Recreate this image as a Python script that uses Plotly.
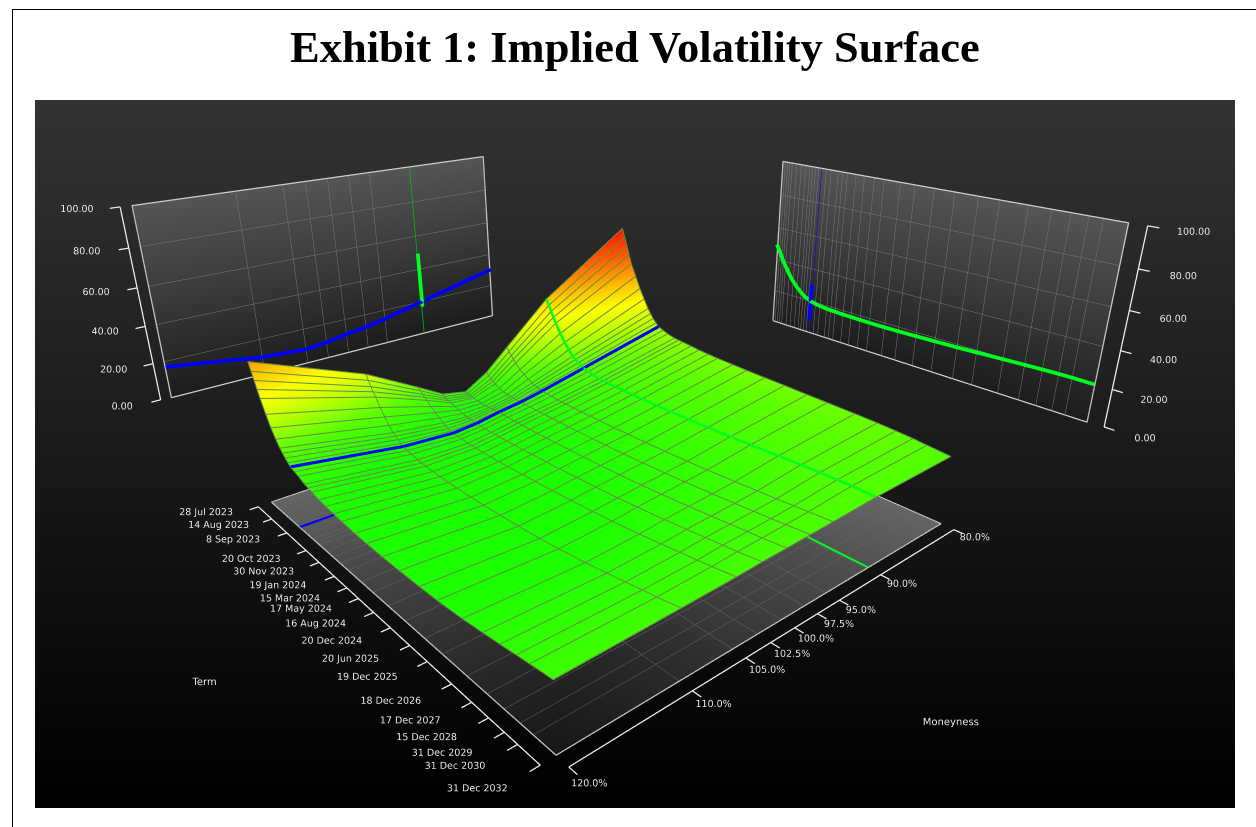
import numpy as np
import plotly.graph_objects as go

TITLE = "Exhibit 1: Implied Volatility Surface"
moneyness = [120, 110, 105, 102.5, 100, 97.5, 95, 90, 80]
moneyness_labels = ["120.0%", "110.0%", "105.0%", "102.5%", "100.0%", "97.5%", "95.0%", "90.0%", "80.0%"]
term_axis = [0, .009, .018, .026, .035, .052, .0685, .085, .10, .11, .12, .131, .142, .158, .175, .20, .215, .231, .26,
             .288, .32, .352, .403, .448, .505, .565, .631, .688, .763, .821, .868, .91, .944, 1]
term_labels = ["28 Jul 2023", "", "", "", "", "", "14 Aug 2023", "", "", "", "", "", "8 Sep 2023", "", "", "", "",
               "20 Oct 2023", "", "30 Nov 2023", "", "19 Jan 2024", "15 Mar 2024", "17 May 2024", "16 Aug 2024",
               "20 Dec 2024", "20 Jun 2025", "19 Dec 2025", "18 Dec 2026", "17 Dec 2027", "15 Dec 2028",
               "31 Dec 2029", "31 Dec 2030", "31 Dec 2032"]
vol_surface = [
    [55.3, 36, 22.4, 15.3, 12.9, 19.7, 29.8, 49.7, 77.7],
    [51.5, 33.5, 21.2, 14.6, 12.5, 18.6, 28.1, 46.8, 73.3],
    [48, 31, 20, 14, 12.2, 17.5, 26.5, 44, 69],
    [44.5, 29, 19, 13.5, 12, 16.6, 25, 41.2, 64.5],
    [41, 27, 18, 13, 11.8, 15.8, 23.5, 38.5, 60],
    [35, 23, 16, 12.2, 11.5, 14.5, 21, 34, 54],
    [30, 19.5, 14, 11.5, 11.3, 13.8, 19.5, 30, 48],
    [26, 16.5, 12.5, 10.8, 11.2, 13.4, 18, 27, 43],
    [23, 14, 11, 10.2, 11.2, 13.2, 17, 24.5, 38.5],
    [21.5, 13, 10.2, 10, 11.2, 13.1, 16.5, 23.2, 36.2],
    [20, 12, 9.5, 9.8, 11.3, 13.1, 16, 22, 34],
    [18.7, 11, 9, 9.6, 11.4, 13, 15.6, 21.1, 32.2],
    [17.4, 10, 8.5, 9.5, 11.5, 13, 15.2, 20.3, 30.5],
    [16.8, 9.5, 8.3, 9.4, 11.4, 12.9, 15, 19.6, 29.5],
    [16, 9, 8.2, 9.4, 11.4, 12.9, 14.8, 19, 28.5],
    [14.5, 8.2, 8, 9.4, 11.3, 12.9, 14.6, 18.5, 27.5],
    [14, 7.9, 7.9, 9.4, 11.3, 12.9, 14.5, 18.3, 27.2],
    [13.5, 7.6, 7.9, 9.4, 11.3, 12.9, 14.5, 18.2, 27],
    [12.5, 7.3, 7.9, 9.5, 11.3, 12.9, 14.4, 18, 26.5],
    [12, 7.1, 8, 9.6, 11.3, 12.9, 14.4, 17.9, 26],
    [11.5, 7, 8.1, 9.7, 11.4, 12.9, 14.4, 17.8, 25.6],
    [11, 7, 8.3, 9.9, 11.5, 13, 14.4, 17.7, 25.3],
    [10.5, 7.1, 8.6, 10.2, 11.7, 13.1, 14.5, 17.7, 25],
    [10.3, 7.3, 9, 10.5, 11.9, 13.3, 14.6, 17.8, 24.7],
    [10.2, 7.7, 9.5, 11, 12.2, 13.5, 14.8, 18, 24.5],
    [10.3, 8.3, 10.1, 11.5, 12.7, 13.9, 15.1, 18.3, 24.3],
    [10.6, 9, 10.9, 12.2, 13.3, 14.4, 15.5, 18.6, 24],
    [11, 10, 11.7, 13, 14, 15, 16, 19, 23.8],
    [12, 11.5, 13, 14.2, 15.1, 15.9, 16.8, 19.6, 23.5],
    [13.2, 13, 14.3, 15.3, 16, 16.7, 17.5, 20, 23.2],
    [14.2, 14.2, 15.3, 16.2, 16.8, 17.4, 18, 20.3, 22.8],
    [15.2, 15.4, 16.2, 17, 17.5, 18, 18.6, 20.5, 22.3],
    [16, 16.2, 17, 17.6, 18, 18.5, 19, 20.6, 21.7],
    [17.2, 18, 18.5, 19, 19.2, 19.5, 19.8, 20.5, 20.8],
]
vol_ticks = [0, 20, 40, 60, 80, 100]
BLUE_TERM = term_labels.index("8 Sep 2023")
GREEN_COL = moneyness.index(90)

W, H = 1256, 827
FLOOR_Z = -11
M_WALL = 55.1      # moneyness coordinate of the right-hand wall plane
T_WALL = -0.593    # term coordinate of the back wall plane
R_DROP = -2.2      # the right-hand wall sits slightly lower than the back wall
GRID = "rgb(100,140,70)"
WALLGRID = "rgb(120,120,120)"
FLOORGRID = "rgb(100,100,100)"
EDGE = "rgb(205,205,205)"
WHITE = "rgb(240,240,240)"
BLUE = "rgb(0,0,255)"
GREEN = "rgb(0,255,30)"

vol = np.array(vol_surface)
mon = np.array(moneyness)
term = np.array(term_axis)
wm = lambda m: 120 - (120 - m) * .975   # back wall is drawn slightly narrower than the floor
rz = lambda v: v + R_DROP

fig = go.Figure()


def lines(segments, color, width):
    xs, ys, zs = [], [], []
    for seg in segments:
        for p in seg:
            xs.append(p[0]); ys.append(p[1]); zs.append(p[2])
        xs.append(None); ys.append(None); zs.append(None)
    fig.add_trace(go.Scatter3d(x=xs, y=ys, z=zs, mode="lines", line=dict(color=color, width=width),
                               hoverinfo="skip", showlegend=False))


def labels(xs, ys, zs, texts, size=9.5, color="rgb(235,235,235)"):
    fig.add_trace(go.Scatter3d(x=xs, y=ys, z=zs, mode="text", text=texts, textposition="middle center",
                               textfont=dict(family="DejaVu Sans", size=size, color=color),
                               hoverinfo="skip", showlegend=False))


def quad(corners, colors):
    c = np.array(corners)
    fig.add_trace(go.Mesh3d(x=c[:, 0], y=c[:, 1], z=c[:, 2], i=[0, 0], j=[1, 2], k=[2, 3], vertexcolor=colors,
                            lighting=dict(ambient=1, diffuse=0, specular=0, roughness=1, fresnel=0),
                            flatshading=False, hoverinfo="skip", showlegend=False))


# surface ------------------------------------------------------------------
vscale = [[0, "rgb(20,255,0)"], [.11, "rgb(28,255,0)"], [.17, "rgb(60,255,0)"], [.21, "rgb(85,255,0)"],
          [.30, "rgb(170,255,0)"], [.36, "rgb(220,255,0)"], [.42, "rgb(255,255,0)"], [.50, "rgb(255,200,0)"],
          [.55, "rgb(255,160,0)"], [.65, "rgb(255,90,0)"], [.78, "rgb(255,20,0)"], [1, "rgb(255,0,0)"]]
fig.add_trace(go.Surface(x=mon[::-1], y=term, z=vol[:, ::-1], colorscale=vscale, cmin=0, cmax=100, showscale=False,
                         lighting=dict(ambient=1, diffuse=0, specular=0, roughness=1, fresnel=0),
                         hoverinfo="skip"))
LIFT = 0.25
lines([[(m, t, v + LIFT) for m, v in zip(mon, row)] for t, row in zip(term, vol)], GRID, 2)
lines([[(mon[j], t, vol[i, j] + LIFT) for i, t in enumerate(term)] for j in range(len(mon)) if j != GREEN_COL], GRID, 2)
lines([[(m, term[BLUE_TERM], v + 2 * LIFT) for m, v in zip(mon, vol[BLUE_TERM])]], BLUE, 6.5)
lines([[(mon[GREEN_COL], t, vol[i, GREEN_COL] + 2 * LIFT) for i, t in enumerate(term)]], GREEN, 5)

# floor --------------------------------------------------------------------
quad([(120, 1, FLOOR_Z), (80, 1, FLOOR_Z), (80, 0, FLOOR_Z), (120, 0, FLOOR_Z)],
     ["rgb(22,22,22)", "rgb(100,100,100)", "rgb(120,120,120)", "rgb(100,100,100)"])
FZ = FLOOR_Z + .15
lines([[(120, t, FZ), (80, t, FZ)] for t in term], FLOORGRID, 1)
lines([[(m, 0, FZ), (m, 1, FZ)] for m in mon], FLOORGRID, 1)
lines([[(120, 0, FZ), (80, 0, FZ), (80, 1, FZ), (120, 1, FZ), (120, 0, FZ)]], EDGE, 2.5)
lines([[(120, term[BLUE_TERM], FZ), (80, term[BLUE_TERM], FZ)]], BLUE, 7)
lines([[(90, 0, FZ), (90, 1, FZ)]], GREEN, 7)

# term axis
TA = 121.15
lab_t = [t for t, l in zip(term, term_labels) if l]
lines([[(TA, 0, FLOOR_Z), (TA, 1, FLOOR_Z)]], WHITE, 2.5)
lines([[(TA, t, FLOOR_Z), (121.9, t, FLOOR_Z)] for t in lab_t], WHITE, 2.5)
labels([125.4] * len(lab_t), lab_t, [FLOOR_Z + 5.5] * len(lab_t), [l for l in term_labels if l])
# moneyness axis
MA = 1.03
lines([[(120, MA, FLOOR_Z), (80, MA, FLOOR_Z)]], WHITE, 2.5)
lines([[(m, MA, FLOOR_Z), (m, 1.05, FLOOR_Z)] for m in mon], WHITE, 2.5)
labels(moneyness, [1.077] * 9, [FLOOR_Z + 1] * 9, moneyness_labels)
labels([133], [.494], [FLOOR_Z], ["Term"], 10)
labels([100.2], [1.342], [FLOOR_Z], ["Moneyness"], 10)

# back wall (vol against moneyness) ----------------------------------------
top, bot = "rgb(85,85,85)", "rgb(28,28,28)"
quad([(wm(120), T_WALL, 0), (wm(80), T_WALL, 0), (wm(80), T_WALL, 100), (wm(120), T_WALL, 100)], [bot, bot, top, top])
TW = T_WALL + .004
lines([[(wm(120), TW, v), (wm(80), TW, v)] for v in vol_ticks[1:-1]], WALLGRID, 1)
lines([[(wm(m), TW, 0), (wm(m), TW, 100)] for m in mon if m != 90], WALLGRID, 1)
lines([[(wm(120), TW, 0), (wm(80), TW, 0), (wm(80), TW, 100), (wm(120), TW, 100), (wm(120), TW, 0)]], EDGE, 2.5)
lines([[(wm(90), TW, 0), (wm(90), TW, 100)]], "rgb(0,190,0)", 1.5)
TW2 = T_WALL + .008
lines([[(wm(90), TW2, v) for v in vol[:, GREEN_COL]]], GREEN, 7.5)
lines([[(wm(m), TW2, v) for m, v in zip(mon, vol[BLUE_TERM])]], BLUE, 7.5)
lines([[(121, T_WALL, 0), (121, T_WALL, 100)]], WHITE, 2.5)
lines([[(121, T_WALL, v), (121.9, T_WALL, v)] for v in vol_ticks], WHITE, 2.5)
labels([124.6] * 6, [T_WALL] * 6, [v + 2 for v in vol_ticks], [f"{v:.2f}" for v in vol_ticks])

# right wall (vol against term) ----------------------------------------------
quad([(M_WALL, 1, rz(0)), (M_WALL, 0, rz(0)), (M_WALL, 0, rz(100)), (M_WALL, 1, rz(100))], [bot, bot, top, top])
MW = M_WALL + .15
lines([[(MW, 0, rz(v)), (MW, 1, rz(v))] for v in vol_ticks[1:-1]], WALLGRID, 1)
lines([[(MW, t, rz(0)), (MW, t, rz(100))] for i, t in enumerate(term) if i != BLUE_TERM], WALLGRID, 1)
lines([[(MW, 0, rz(0)), (MW, 1, rz(0)), (MW, 1, rz(100)), (MW, 0, rz(100)), (MW, 0, rz(0))]], EDGE, 2.5)
lines([[(MW, term[BLUE_TERM], rz(0)), (MW, term[BLUE_TERM], rz(100))]], "rgb(20,20,210)", 1.5)
MW2 = M_WALL + .3
lines([[(MW2, term[BLUE_TERM], rz(v)) for v in vol[BLUE_TERM]]], BLUE, 7.5)
lines([[(MW2, t, rz(v)) for t, v in zip(term, vol[:, GREEN_COL])]], GREEN, 7.5)
lines([[(M_WALL, 1.04, rz(0)), (M_WALL, 1.04, rz(100))]], WHITE, 2.5)
lines([[(M_WALL, 1.04, rz(v)), (M_WALL, 1.065, rz(v))] for v in vol_ticks], WHITE, 2.5)
labels([M_WALL] * 6, [1.135] * 6, [v - 1 for v in vol_ticks], [f"{v:.2f}" for v in vol_ticks])

# page ---------------------------------------------------------------------
shapes = []
PANEL = (35, 100, 1235, 808)
for lvl in range(52):
    y0 = PANEL[1] + (PANEL[3] - PANEL[1]) * lvl / 52
    g = 51 - lvl
    shapes.append(dict(type="rect", xref="paper", yref="paper", x0=PANEL[0] / W, x1=PANEL[2] / W, y0=1 - y0 / H,
                       y1=1 - PANEL[3] / H, fillcolor=f"rgb({g},{g},{g})", line=dict(width=0), layer="below"))
shapes.append(dict(type="line", xref="paper", yref="paper", x0=12 / W, x1=1, y0=1 - 9.5 / H, y1=1 - 9.5 / H,
                   line=dict(color="black", width=1)))
shapes.append(dict(type="line", xref="paper", yref="paper", x0=12.5 / W, x1=12.5 / W, y0=0, y1=1 - 9 / H,
                   line=dict(color="black", width=1)))

fig.update_layout(
    width=W, height=H, margin=dict(l=0, r=0, t=0, b=0), paper_bgcolor="white", showlegend=False, shapes=shapes,
    annotations=[dict(text=f"<b>{TITLE}</b>", x=635 / W, y=1 - 47 / H, xref="paper", yref="paper", showarrow=False,
                      xanchor="center", yanchor="middle",
                      font=dict(family="Liberation Serif", size=44.5, color="black"))],
    scene=dict(
        domain=dict(x=[0, 1], y=[0, 1]), bgcolor="rgba(0,0,0,0)",
        xaxis=dict(range=[46, 138], visible=False),
        yaxis=dict(range=[-.85, 1.45], visible=False),
        zaxis=dict(range=[-15, 105], visible=False),
        aspectmode="manual", aspectratio=dict(x=2.3, y=2.3, z=.5844),
        camera=dict(eye=dict(x=1.363, y=1.613, z=.783), center=dict(x=-.139, y=-.095, z=-.244),
                    up=dict(x=0, y=0, z=1), projection=dict(type="perspective")),
    ),
)
fig.write_html("out.html", config={"displayModeBar": False},
               post_script="document.body.style.margin='0';document.body.style.overflow='hidden';")
